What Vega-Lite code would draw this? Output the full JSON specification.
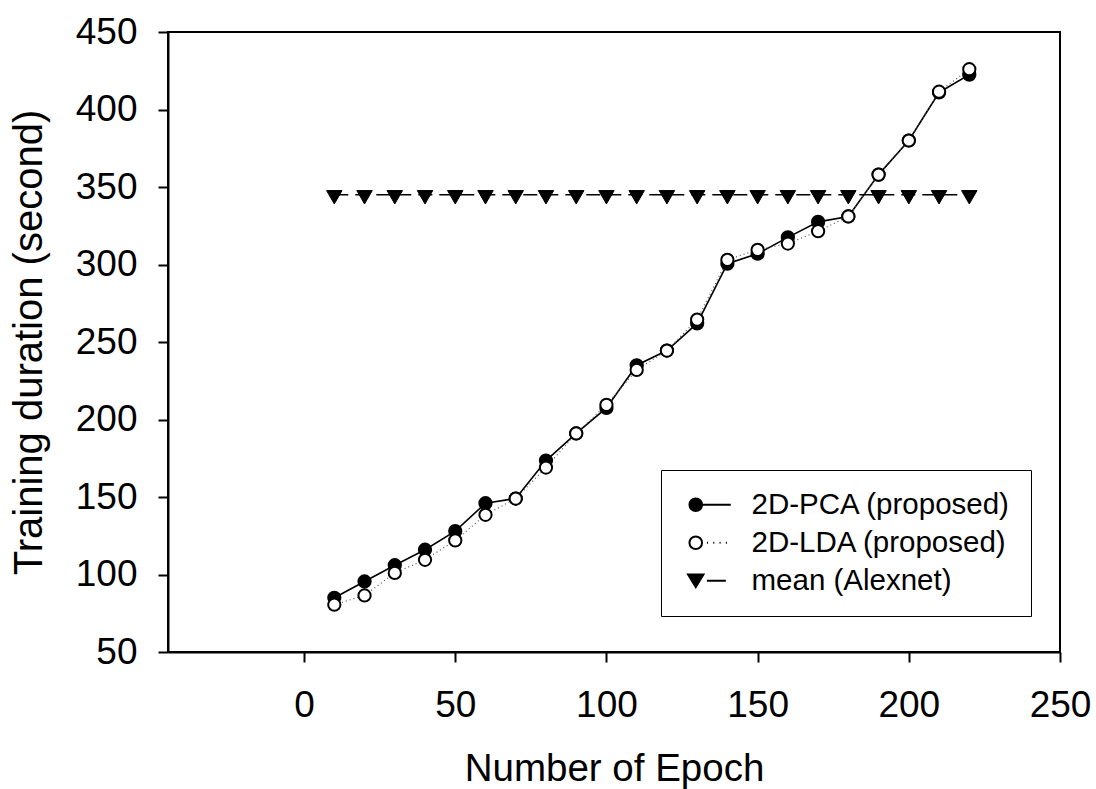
{
  "$schema": "https://vega.github.io/schema/vega-lite/v6.json",
  "autosize": {"type": "none"},
  "padding": {"left": 168, "top": 32, "right": 36, "bottom": 137},
  "width": 892,
  "height": 620,
  "background": "white",
  "config": {
    "font": "Liberation Sans",
    "view": {"stroke": "black", "strokeWidth": 2},
    "axis": {
      "grid": false,
      "domainColor": "black",
      "domainWidth": 2,
      "tickColor": "black",
      "tickWidth": 2,
      "tickSize": 10,
      "labelFont": "Liberation Sans",
      "labelFontSize": 37,
      "labelColor": "black",
      "labelFlush": false,
      "labelOverlap": false,
      "titleFont": "Liberation Sans",
      "titleFontSize": 38.5,
      "titleFontWeight": "normal",
      "titleColor": "black"
    }
  },
  "data": {
    "values": [
      {"epoch": 10, "duration": 85, "series": "2D-PCA (proposed)"},
      {"epoch": 20, "duration": 95.5, "series": "2D-PCA (proposed)"},
      {"epoch": 30, "duration": 106, "series": "2D-PCA (proposed)"},
      {"epoch": 40, "duration": 116, "series": "2D-PCA (proposed)"},
      {"epoch": 50, "duration": 128, "series": "2D-PCA (proposed)"},
      {"epoch": 60, "duration": 146, "series": "2D-PCA (proposed)"},
      {"epoch": 70, "duration": 149, "series": "2D-PCA (proposed)"},
      {"epoch": 80, "duration": 173.5, "series": "2D-PCA (proposed)"},
      {"epoch": 90, "duration": 191, "series": "2D-PCA (proposed)"},
      {"epoch": 100, "duration": 207.5, "series": "2D-PCA (proposed)"},
      {"epoch": 110, "duration": 235, "series": "2D-PCA (proposed)"},
      {"epoch": 120, "duration": 244.5, "series": "2D-PCA (proposed)"},
      {"epoch": 130, "duration": 262, "series": "2D-PCA (proposed)"},
      {"epoch": 140, "duration": 300.5, "series": "2D-PCA (proposed)"},
      {"epoch": 150, "duration": 307, "series": "2D-PCA (proposed)"},
      {"epoch": 160, "duration": 317.5, "series": "2D-PCA (proposed)"},
      {"epoch": 170, "duration": 327.5, "series": "2D-PCA (proposed)"},
      {"epoch": 180, "duration": 331, "series": "2D-PCA (proposed)"},
      {"epoch": 190, "duration": 358, "series": "2D-PCA (proposed)"},
      {"epoch": 200, "duration": 380, "series": "2D-PCA (proposed)"},
      {"epoch": 210, "duration": 411, "series": "2D-PCA (proposed)"},
      {"epoch": 220, "duration": 422.5, "series": "2D-PCA (proposed)"},
      {"epoch": 10, "duration": 80.5, "series": "2D-LDA (proposed)"},
      {"epoch": 20, "duration": 86.5, "series": "2D-LDA (proposed)"},
      {"epoch": 30, "duration": 101, "series": "2D-LDA (proposed)"},
      {"epoch": 40, "duration": 109.5, "series": "2D-LDA (proposed)"},
      {"epoch": 50, "duration": 122, "series": "2D-LDA (proposed)"},
      {"epoch": 60, "duration": 138.5, "series": "2D-LDA (proposed)"},
      {"epoch": 70, "duration": 149, "series": "2D-LDA (proposed)"},
      {"epoch": 80, "duration": 169, "series": "2D-LDA (proposed)"},
      {"epoch": 90, "duration": 191, "series": "2D-LDA (proposed)"},
      {"epoch": 100, "duration": 209.5, "series": "2D-LDA (proposed)"},
      {"epoch": 110, "duration": 232, "series": "2D-LDA (proposed)"},
      {"epoch": 120, "duration": 244.5, "series": "2D-LDA (proposed)"},
      {"epoch": 130, "duration": 264.5, "series": "2D-LDA (proposed)"},
      {"epoch": 140, "duration": 303, "series": "2D-LDA (proposed)"},
      {"epoch": 150, "duration": 309.5, "series": "2D-LDA (proposed)"},
      {"epoch": 160, "duration": 313.5, "series": "2D-LDA (proposed)"},
      {"epoch": 170, "duration": 321.5, "series": "2D-LDA (proposed)"},
      {"epoch": 180, "duration": 331, "series": "2D-LDA (proposed)"},
      {"epoch": 190, "duration": 358, "series": "2D-LDA (proposed)"},
      {"epoch": 200, "duration": 380, "series": "2D-LDA (proposed)"},
      {"epoch": 210, "duration": 411.5, "series": "2D-LDA (proposed)"},
      {"epoch": 220, "duration": 426, "series": "2D-LDA (proposed)"},
      {"epoch": 10, "duration": 345, "series": "mean (Alexnet)"},
      {"epoch": 20, "duration": 345, "series": "mean (Alexnet)"},
      {"epoch": 30, "duration": 345, "series": "mean (Alexnet)"},
      {"epoch": 40, "duration": 345, "series": "mean (Alexnet)"},
      {"epoch": 50, "duration": 345, "series": "mean (Alexnet)"},
      {"epoch": 60, "duration": 345, "series": "mean (Alexnet)"},
      {"epoch": 70, "duration": 345, "series": "mean (Alexnet)"},
      {"epoch": 80, "duration": 345, "series": "mean (Alexnet)"},
      {"epoch": 90, "duration": 345, "series": "mean (Alexnet)"},
      {"epoch": 100, "duration": 345, "series": "mean (Alexnet)"},
      {"epoch": 110, "duration": 345, "series": "mean (Alexnet)"},
      {"epoch": 120, "duration": 345, "series": "mean (Alexnet)"},
      {"epoch": 130, "duration": 345, "series": "mean (Alexnet)"},
      {"epoch": 140, "duration": 345, "series": "mean (Alexnet)"},
      {"epoch": 150, "duration": 345, "series": "mean (Alexnet)"},
      {"epoch": 160, "duration": 345, "series": "mean (Alexnet)"},
      {"epoch": 170, "duration": 345, "series": "mean (Alexnet)"},
      {"epoch": 180, "duration": 345, "series": "mean (Alexnet)"},
      {"epoch": 190, "duration": 345, "series": "mean (Alexnet)"},
      {"epoch": 200, "duration": 345, "series": "mean (Alexnet)"},
      {"epoch": 210, "duration": 345, "series": "mean (Alexnet)"},
      {"epoch": 220, "duration": 345, "series": "mean (Alexnet)"}
    ]
  },
  "encoding": {
    "x": {
      "field": "epoch",
      "type": "quantitative",
      "scale": {"domain": [-45, 250], "nice": false, "zero": false},
      "axis": {
        "values": [0, 50, 100, 150, 200, 250],
        "title": "Number of Epoch",
        "labelPadding": 25,
        "titlePadding": 27
      }
    },
    "y": {
      "field": "duration",
      "type": "quantitative",
      "scale": {"domain": [50, 450], "nice": false, "zero": false},
      "axis": {
        "values": [50, 100, 150, 200, 250, 300, 350, 400, 450],
        "title": "Training duration (second)",
        "titleFontSize": 40,
        "labelPadding": 21,
        "titlePadding": 26
      }
    }
  },
  "layer": [
    {
      "transform": [{"filter": "datum.series === '2D-PCA (proposed)'"}],
      "mark": {"type": "line", "stroke": "black", "strokeWidth": 1.6}
    },
    {
      "transform": [{"filter": "datum.series === '2D-LDA (proposed)'"}],
      "mark": {"type": "line", "stroke": "#555555", "strokeWidth": 1.2, "strokeDash": [1, 3]}
    },
    {
      "transform": [{"filter": "datum.series === 'mean (Alexnet)'"}],
      "mark": {"type": "line", "stroke": "black", "strokeWidth": 1.6, "strokeDash": [14, 7]}
    },
    {
      "transform": [{"filter": "datum.series === '2D-PCA (proposed)'"}],
      "mark": {"type": "point", "shape": "circle", "filled": true, "size": 150, "fill": "black", "stroke": "black", "strokeWidth": 2, "opacity": 1}
    },
    {
      "transform": [{"filter": "datum.series === '2D-LDA (proposed)'"}],
      "mark": {"type": "point", "shape": "circle", "filled": true, "size": 150, "fill": "white", "stroke": "black", "strokeWidth": 2, "opacity": 1}
    },
    {
      "transform": [{"filter": "datum.series === 'mean (Alexnet)'"}],
      "mark": {"type": "point", "shape": "triangle-down", "filled": true, "size": 240, "fill": "black", "stroke": "black", "strokeWidth": 1, "yOffset": 2.5, "opacity": 1}
    },
    {
      "transform": [{"filter": "false"}],
      "mark": {"type": "point", "filled": true, "strokeWidth": 2, "opacity": 1},
      "encoding": {
        "shape": {
          "field": "series",
          "type": "nominal",
          "scale": {
            "domain": ["2D-PCA (proposed)", "2D-LDA (proposed)", "mean (Alexnet)"],
            "range": [
              "M-0.9,0A0.9,0.9 0 1,1 0.9,0A0.9,0.9 0 1,1 -0.9,0ZM0.9,0H5",
              "M-0.9,0A0.9,0.9 0 1,1 0.9,0A0.9,0.9 0 1,1 -0.9,0ZM1.6,0h0.15M2.5,0h0.15M3.4,0h0.15M4.3,0h0.15",
              "M-1.1,-0.9H1.1L0,0.9ZM1.6,0H4.3"
            ]
          },
          "legend": {
            "title": null,
            "orient": "none",
            "legendX": 493,
            "legendY": 438,
            "padding": 20,
            "strokeColor": "black",
            "fillColor": "white",
            "labelFont": "Liberation Sans",
            "labelFontSize": 29.5,
            "labelColor": "black",
            "labelLimit": 400,
            "labelOffset": 41,
            "symbolSize": 196,
            "symbolStrokeWidth": 2,
            "symbolOpacity": 1,
            "rowPadding": 7,
            "encode": {
              "legend": {"update": {"strokeWidth": {"value": 1.5}}}
            }
          }
        },
        "fill": {
          "field": "series",
          "type": "nominal",
          "scale": {
            "domain": ["2D-PCA (proposed)", "2D-LDA (proposed)", "mean (Alexnet)"],
            "range": ["black", "white", "black"]
          },
          "legend": {"title": null}
        },
        "stroke": {
          "field": "series",
          "type": "nominal",
          "scale": {
            "domain": ["2D-PCA (proposed)", "2D-LDA (proposed)", "mean (Alexnet)"],
            "range": ["black", "black", "black"]
          },
          "legend": {"title": null}
        }
      }
    }
  ]
}
